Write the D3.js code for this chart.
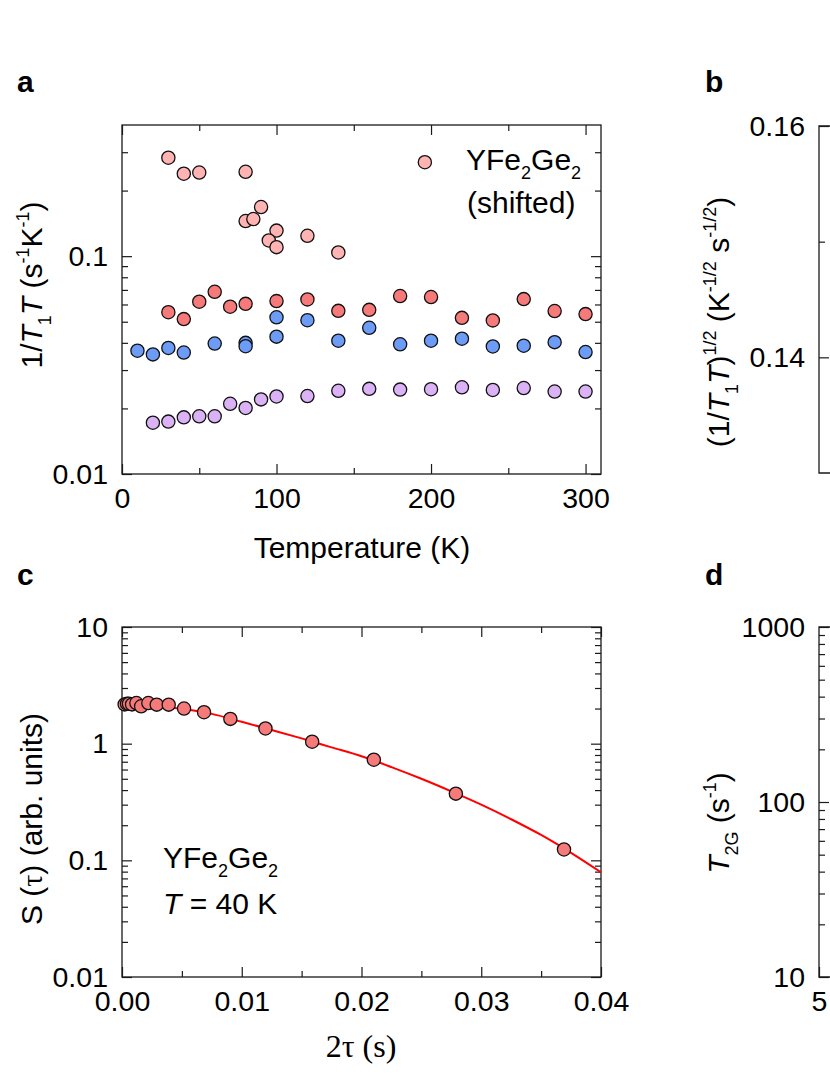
<!DOCTYPE html>
<html>
<head>
<meta charset="utf-8">
<script src="https://cdn.jsdelivr.net/npm/d3@7"></script>
<style>
  body{margin:0;background:#fff;}
  svg{display:block;}
</style>
</head>
<body>
<svg id="fig" width="830" height="1075"></svg>
<script>
// panel a: 1/T1T vs temperature, four series
const tempPink = [30,40,50,80,90,80,85,100,95,100,120,140];
const ratePink = [0.283,0.239,0.242,0.244,0.168,0.145,0.148,0.131,0.118,0.110,0.124,0.104];
const tempRed = [30,40,50,60,70,80,100,120,140,160,180,200,220,240,260,280,300];
const rateRed = [0.0553,0.0514,0.0618,0.0686,0.0586,0.0604,0.0622,0.0633,0.0561,0.0567,0.0656,0.0649,0.0521,0.0507,0.0635,0.0560,0.0542];
const tempBlue = [10,20,30,40,60,80,80,100,100,120,140,160,180,200,220,240,260,280,300];
const rateBlue = [0.0368,0.0354,0.0379,0.0361,0.0397,0.0400,0.0386,0.0427,0.0524,0.0508,0.0409,0.0469,0.0394,0.0409,0.0418,0.0385,0.0388,0.0403,0.0363];
const tempPurple = [20,30,40,50,60,70,80,90,100,120,140,160,180,200,220,240,260,280,300];
const ratePurple = [0.0172,0.0174,0.0182,0.0184,0.0184,0.0210,0.0201,0.0220,0.0227,0.0228,0.0241,0.0246,0.0244,0.0245,0.0250,0.0243,0.0248,0.0239,0.0239];
const legendT = 196, legendRate = 0.27;

// panel c: spin echo decay at 40 K and fitted curve
const tau2 = [0.00022,0.00042,0.00058,0.00084,0.0012,0.0016,0.0022,0.0029,0.0039,0.00518,0.00685,0.00905,0.01198,0.01588,0.02103,0.02788,0.03691];
const echo = [2.17,2.20,2.20,2.17,2.23,2.09,2.23,2.16,2.16,2.00,1.86,1.63,1.35,1.04,0.729,0.373,0.124];
const fitTau = [0,0.0025,0.005,0.0075,0.01,0.0125,0.015,0.0175,0.02,0.0225,0.025,0.0275,0.03,0.0325,0.035,0.0375,0.04];
const fitS = [2.22,2.12,1.99,1.80,1.54,1.31,1.11,0.93,0.78,0.63,0.50,0.39,0.30,0.225,0.165,0.116,0.079];

// tick values
const aXMajor = [0,100,200,300], aXMinor = [50,150,250];
const aYMajor = [0.01,0.1], aYMinor = [0.02,0.03,0.04,0.05,0.06,0.07,0.08,0.09,0.2,0.3];
const cXMajor = [0,0.01,0.02,0.03,0.04], cXMinor = [0.005,0.015,0.025,0.035];
const cYMajor = [0.01,0.1,1,10];
const cYMinor = [2,3,4,5,6,7,8,9].flatMap(m=>[0.01*m,0.1*m,m]);
const bYMajor = [0.14,0.16], bYMinor = [0.15];
const dYMajor = [10,100,1000];
const dYMinor = [2,3,4,5,6,7,8,9].flatMap(m=>[10*m,100*m]);

const SANS = '"Liberation Sans", Arial, sans-serif';
const SERIF = '"Liberation Serif", "Times New Roman", serif';
const TICK = 28.5, TITLE = 30;
const INK = '#1a1a1a';

const svg = d3.select('#fig').attr('font-family', SANS);

function rich(t, parts, size){
  let shift = 0;
  parts.forEach(p=>{
    const s = t.append('tspan').text(p.t);
    let target = 0, fs = size;
    if(p.sub){ target = size*0.3; fs = size*0.6; }
    if(p.sup){ target = -size*0.42; fs = size*0.6; }
    if(target !== shift) s.attr('dy', target - shift);
    shift = target;
    s.attr('font-size', fs);
    if(p.i) s.attr('font-style','italic');
    if(p.serif) s.attr('font-family', SERIF);
  });
}

function styleAxis(g){
  g.select('.domain').remove();
  g.selectAll('line').attr('stroke', INK).attr('stroke-width', 1.2);
  g.selectAll('text').attr('font-size', TICK).attr('fill','#000').attr('font-family', SANS);
}

function addAxis(gen, scale, major, minor, fmt, tx, ty, pad, parent){
  const a = parent.append('g').attr('transform','translate('+tx+','+ty+')');
  a.call(gen(scale).tickValues(major).tickSize(-10).tickPadding(pad).tickFormat(fmt || ''));
  styleAxis(a);
  if(minor && minor.length){
    const m = parent.append('g').attr('transform','translate('+tx+','+ty+')');
    m.call(gen(scale).tickValues(minor).tickSize(-6).tickFormat(''));
    styleAxis(m);
  }
}

function box(x, y){
  const [x0,x1] = x.range(), [y0,y1] = y.range();
  svg.append('rect')
    .attr('x', x0).attr('y', y1).attr('width', x1-x0).attr('height', y0-y1)
    .attr('fill','none').attr('stroke', INK).attr('stroke-width', 1.3);
}

function dots(x, y, xs, ys, fill){
  svg.append('g').selectAll('circle').data(xs.map((v,i)=>[v, ys[i]])).enter()
    .append('circle')
    .attr('cx', d=>x(d[0])).attr('cy', d=>y(d[1])).attr('r', 6.6)
    .attr('fill', fill).attr('stroke', '#111').attr('stroke-width', 1.3);
}

function letter(t, x, y){
  svg.append('text').attr('x', x).attr('y', y).attr('font-size', 30)
    .attr('font-weight','bold').text(t);
}

function yTitle(x, y, parts){
  const t = svg.append('text').attr('transform','translate('+x+','+y+') rotate(-90)')
    .attr('text-anchor','middle').attr('font-size', TITLE);
  rich(t, parts, TITLE);
}

// ---------- panel a ----------
const xa = d3.scaleLinear().domain([0,310]).range([122,601]);
const ya = d3.scaleLog().domain([0.01,0.4]).range([474,125]);
const fmtA = d=>d===0.01?'0.01':'0.1';
addAxis(d3.axisBottom, xa, aXMajor, aXMinor, d3.format('d'), 0, 474, 14, svg);
addAxis(d3.axisTop, xa, aXMajor, aXMinor, null, 0, 125, 3, svg);
addAxis(d3.axisLeft, ya, aYMajor, aYMinor, fmtA, 122, 0, 14, svg);
addAxis(d3.axisRight, ya, aYMajor, aYMinor, null, 601, 0, 3, svg);
box(xa, ya);

dots(xa, ya, tempPurple, ratePurple, '#dcb2f6');
dots(xa, ya, tempBlue, rateBlue, '#6d9cf7');
dots(xa, ya, tempRed, rateRed, '#f77a7a');
dots(xa, ya, tempPink, ratePink, '#ffb3b3');
dots(xa, ya, [legendT], [legendRate], '#ffb3b3');

const lg = svg.append('text').attr('x', 466).attr('y', 170).attr('font-size', TITLE);
rich(lg, [{t:'YFe'},{t:'2',sub:true},{t:'Ge'},{t:'2',sub:true}], TITLE);
svg.append('text').attr('x', 467).attr('y', 213).attr('font-size', TITLE).text('(shifted)');

svg.append('text').attr('x', 362).attr('y', 558).attr('text-anchor','middle')
  .attr('font-size', TITLE).text('Temperature (K)');
yTitle(42, 285, [{t:'1/'},{t:'T',i:true},{t:'1',sub:true},{t:'T',i:true},{t:' (s'},{t:'-1',sup:true},{t:'K'},{t:'-1',sup:true},{t:')'}]);
letter('a', 17, 92);

// ---------- panel b (left edge only) ----------
const yb = d3.scaleLinear().domain([0.13,0.16]).range([473,126]);
addAxis(d3.axisLeft, yb, bYMajor, bYMinor, d3.format('.2f'), 819, 0, 14, svg);
svg.append('path').attr('d','M840,126H819V473H840').attr('fill','none')
  .attr('stroke', INK).attr('stroke-width', 1.3);
yTitle(729, 322, [{t:'(1/'},{t:'T',i:true},{t:'1',sub:true},{t:'T',i:true},{t:')'},{t:'1/2',sup:true},{t:' (K'},{t:'-1/2',sup:true},{t:' s'},{t:'-1/2',sup:true},{t:')'}]);
letter('b', 705, 92);

// ---------- panel c ----------
const xc = d3.scaleLinear().domain([0,0.04]).range([122,601]);
const yc = d3.scaleLog().domain([0.01,10]).range([977,627]);
const fmtC = d=>({0.01:'0.01',0.1:'0.1',1:'1',10:'10'})[d];
addAxis(d3.axisBottom, xc, cXMajor, cXMinor, d3.format('.2f'), 0, 977, 14, svg);
addAxis(d3.axisTop, xc, cXMajor, cXMinor, null, 0, 627, 3, svg);
addAxis(d3.axisLeft, yc, cYMajor, cYMinor, fmtC, 122, 0, 14, svg);
addAxis(d3.axisRight, yc, cYMajor, cYMinor, null, 601, 0, 3, svg);
box(xc, yc);

svg.append('path')
  .datum(fitTau.map((v,i)=>[v, fitS[i]]))
  .attr('d', d3.line().x(d=>xc(d[0])).y(d=>yc(d[1])).curve(d3.curveCatmullRom))
  .attr('fill','none').attr('stroke','#ff0000').attr('stroke-width', 2);
dots(xc, yc, tau2, echo, '#f77a7a');

const cl = svg.append('text').attr('x', 163).attr('y', 868).attr('font-size', TITLE);
rich(cl, [{t:'YFe'},{t:'2',sub:true},{t:'Ge'},{t:'2',sub:true}], TITLE);
const ct = svg.append('text').attr('x', 163).attr('y', 914).attr('font-size', TITLE);
rich(ct, [{t:'T',i:true},{t:' = 40 K'}], TITLE);

svg.append('text').attr('x', 361).attr('y', 1057).attr('text-anchor','middle')
  .attr('font-size', 32).attr('font-family', SERIF).text('2\u03c4 (s)');
yTitle(42, 819, [{t:'S ('},{t:'\u03c4',serif:true},{t:') (arb. units)'}]);
letter('c', 17, 585);

// ---------- panel d (left edge only) ----------
const yd = d3.scaleLog().domain([10,1000]).range([977,627]);
const fmtD = d=>String(d);
addAxis(d3.axisLeft, yd, dYMajor, dYMinor, fmtD, 819, 0, 14, svg);
svg.append('path').attr('d','M840,627H819V977H840').attr('fill','none')
  .attr('stroke', INK).attr('stroke-width', 1.3);
const xd = d3.scaleLinear().domain([5,50]).range([819,1300]);
addAxis(d3.axisBottom, xd, [5], [], d3.format('d'), 0, 977, 14, svg);
yTitle(729, 823, [{t:'T',i:true},{t:'2G',sub:true},{t:' (s'},{t:'-1',sup:true},{t:')'}]);
letter('d', 705, 585);
</script>
</body>
</html>
